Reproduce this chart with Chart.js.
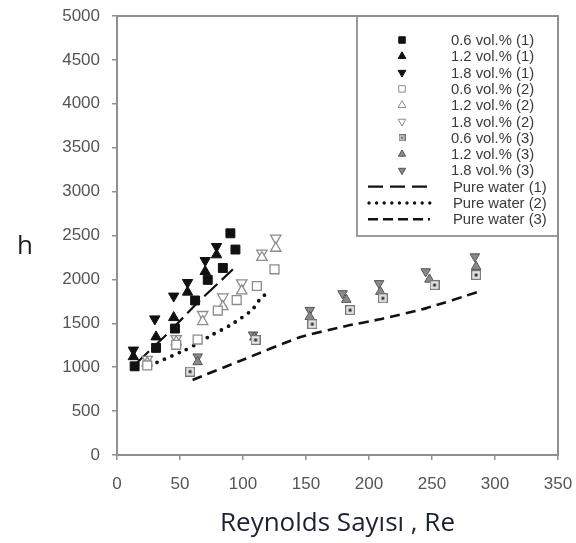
<!DOCTYPE html>
<html lang="tr">
<head>
    <meta charset="UTF-8">
    <title>h - Re</title>
    <script src="https://cdn.jsdelivr.net/npm/chart.js"></script>
    <style>
        body { margin: 0; background: #fff; }
        canvas { display: block; }
    </style>
</head>
<body>
    <canvas id="myChart" width="576" height="543"></canvas>

    <script>
        // eksen değerleri
        const xTicks = [0, 50, 100, 150, 200, 250, 300, 350];
        const yTicks = [0, 500, 1000, 1500, 2000, 2500, 3000, 3500, 4000, 4500, 5000];

        // (1) serisi - dolu semboller
        const re06_1 = [14, 31, 46, 62, 72, 84, 94, 90];
        const h06_1  = [1010, 1220, 1440, 1760, 1995, 2130, 2340, 2525];
        const re12_1 = [13, 31, 45, 56, 70, 79];
        const h12_1  = [1120, 1345, 1565, 1855, 2090, 2280];
        const re18_1 = [13, 30, 45, 56, 70, 79];
        const h18_1  = [1195, 1550, 1810, 1965, 2215, 2375];

        // (2) serisi - boş semboller
        const re06_2 = [24, 47, 64, 80, 95, 111, 125];
        const h06_2  = [1020, 1255, 1315, 1645, 1765, 1925, 2115];
        const re12_2 = [24, 47, 68, 84, 99, 115, 126];
        const h12_2  = [1050, 1290, 1520, 1690, 1870, 2250, 2355];
        const re18_2 = [24, 47, 68, 84, 99, 115, 126];
        const h18_2  = [1090, 1325, 1600, 1800, 1960, 2300, 2470];

        // (3) serisi - gri semboller
        const re06_3 = [58, 110, 155, 185, 211, 252, 285];
        const h06_3  = [950, 1310, 1490, 1650, 1785, 1935, 2050];
        const re12_3 = [64, 109, 153, 182, 209, 248, 285];
        const h12_3  = [1060, 1340, 1575, 1770, 1860, 2000, 2145];
        const re18_3 = [64, 108, 153, 179, 208, 245, 284];
        const h18_3  = [1120, 1370, 1650, 1840, 1955, 2090, 2260];

        // saf su eğrileri
        const rePw1 = [15, 40, 65, 92];
        const hPw1  = [1040, 1380, 1750, 2115];
        const rePw2 = [26, 54, 62, 75, 90, 107, 113, 120];
        const hPw2  = [1020, 1195, 1255, 1365, 1480, 1650, 1765, 1860];
        const rePw3 = [60, 100, 145, 182, 210, 245, 287];
        const hPw3  = [855, 1085, 1340, 1470, 1550, 1670, 1860];

        const pts = (xs, ys) => xs.map((x, i) => ({ x: x, y: ys[i] }));

        // ortası noktalı kare (0.6 vol.% (3))
        function boxDot(size) {
            const c = document.createElement('canvas');
            c.width = size; c.height = size;
            const g = c.getContext('2d');
            g.fillStyle = '#e6e6e6';
            g.fillRect(0, 0, size, size);
            g.strokeStyle = '#777';
            g.lineWidth = 1.2;
            g.strokeRect(0.6, 0.6, size - 1.2, size - 1.2);
            g.fillStyle = '#333';
            const d = Math.max(2, Math.round(size / 3));
            g.fillRect((size - d) / 2, (size - d) / 2, d, d);
            return c;
        }
        const boxDotBig = boxDot(10);
        const boxDotSmall = boxDot(7);

        const ctx = document.getElementById('myChart').getContext('2d');

        const datasets = [
            { label: '0.6 vol.% (1)', data: pts(re06_1, h06_1), pointStyle: 'rect', pointRadius: 6.3,
              backgroundColor: '#111', borderColor: '#111', borderWidth: 1, legendRadius: 4.6 },
            { label: '1.2 vol.% (1)', data: pts(re12_1, h12_1), pointStyle: 'triangle', pointRadius: 6,
              backgroundColor: '#111', borderColor: '#111', borderWidth: 1, legendRadius: 4.5 },
            { label: '1.8 vol.% (1)', data: pts(re18_1, h18_1), pointStyle: 'triangle', rotation: 180, pointRadius: 6,
              backgroundColor: '#111', borderColor: '#111', borderWidth: 1, legendRadius: 4.5 },
            { label: '0.6 vol.% (2)', data: pts(re06_2, h06_2), pointStyle: 'rect', pointRadius: 6.3,
              backgroundColor: '#fff', borderColor: '#8c8c8c', borderWidth: 1.3, legendRadius: 4.6 },
            { label: '1.2 vol.% (2)', data: pts(re12_2, h12_2), pointStyle: 'triangle', pointRadius: 6,
              backgroundColor: '#fff', borderColor: '#8c8c8c', borderWidth: 1.3, legendRadius: 4.5 },
            { label: '1.8 vol.% (2)', data: pts(re18_2, h18_2), pointStyle: 'triangle', rotation: 180, pointRadius: 6,
              backgroundColor: '#fff', borderColor: '#8c8c8c', borderWidth: 1.3, legendRadius: 4.5 },
            { label: '0.6 vol.% (3)', data: pts(re06_3, h06_3), pointStyle: boxDotBig, pointRadius: 5,
              backgroundColor: '#ccc', borderColor: '#777', borderWidth: 1, legendImage: boxDotSmall },
            { label: '1.2 vol.% (3)', data: pts(re12_3, h12_3), pointStyle: 'triangle', pointRadius: 5.5,
              backgroundColor: '#8a8a8a', borderColor: '#555', borderWidth: 1, legendRadius: 4.2 },
            { label: '1.8 vol.% (3)', data: pts(re18_3, h18_3), pointStyle: 'triangle', rotation: 180, pointRadius: 5.5,
              backgroundColor: '#8a8a8a', borderColor: '#555', borderWidth: 1, legendRadius: 4.2 },
            { label: 'Pure water (1)', data: pts(rePw1, hPw1), showLine: true, pointRadius: 0,
              borderColor: '#111', borderWidth: 2.2, borderDash: [18, 6], tension: 0 },
            { label: 'Pure water (2)', data: pts(rePw2, hPw2), showLine: true, pointRadius: 0,
              borderColor: '#111', borderWidth: 3.8, borderDash: [0, 8], borderCapStyle: 'round', tension: 0.25 },
            { label: 'Pure water (3)', data: pts(rePw3, hPw3), showLine: true, pointRadius: 0,
              borderColor: '#111', borderWidth: 2.6, borderDash: [10, 6], tension: 0.2 }
        ];

        // çerçeve, "h" etiketi ve lejant
        const decorations = {
            id: 'decorations',
            afterDraw(chart) {
                const c = chart.ctx;
                const a = chart.chartArea;
                c.save();

                // lejant kutusu
                const lx = 357, ly = a.top, lw = a.right - 357, lh = 236 - a.top;
                c.fillStyle = '#fff';
                c.fillRect(lx, ly, lw, lh);
                c.strokeStyle = '#9a9a9a';
                c.lineWidth = 2;
                c.strokeRect(lx, ly, lw, lh);

                c.font = '14.8px "Liberation Sans", Arial, sans-serif';
                c.textBaseline = 'middle';
                c.textAlign = 'left';
                chart.data.datasets.forEach((ds, i) => {
                    const y = 40 + i * 16.3;
                    if (ds.showLine) {
                        c.save();
                        c.strokeStyle = ds.borderColor;
                        c.lineWidth = i === 10 ? 3.4 : ds.borderWidth;
                        c.lineCap = ds.borderCapStyle || 'butt';
                        c.setLineDash(i === 9 ? [15, 7] : i === 10 ? [0, 7.6] : [10, 5]);
                        c.beginPath();
                        c.moveTo(i === 10 ? 369 : 368, y);
                        c.lineTo(430, y);
                        c.stroke();
                        c.restore();
                    } else {
                        c.save();
                        c.fillStyle = ds.backgroundColor;
                        c.strokeStyle = ds.borderColor;
                        c.lineWidth = 1;
                        Chart.helpers.drawPoint(c, {
                            pointStyle: ds.legendImage || ds.pointStyle,
                            rotation: ds.rotation || 0,
                            radius: ds.legendRadius || 4,
                            borderWidth: 1
                        }, 402, y);
                        c.restore();
                    }
                    c.fillStyle = '#3a3a3a';
                    c.fillText(ds.label, ds.showLine ? 453 : 451, y + 1);
                });

                // grafik çerçevesi
                c.strokeStyle = '#8f8f8f';
                c.lineWidth = 2;
                c.strokeRect(a.left, a.top, a.right - a.left, a.bottom - a.top);

                // dikey eksen etiketi
                c.fillStyle = '#1c1c24';
                c.font = '26px "Open Sans", sans-serif';
                c.textAlign = 'center';
                c.textBaseline = 'middle';
                c.fillText('h', 25, 247);
                c.restore();
            }
        };

        const myChart = new Chart(ctx, {
            type: 'scatter',
            data: { datasets: datasets },
            plugins: [decorations],
            options: {
                responsive: false,
                animation: false,
                layout: { padding: { left: 0, right: 18, top: 16, bottom: 0 } },
                plugins: {
                    legend: { display: false },
                    tooltip: { enabled: false }
                },
                scales: {
                    x: {
                        type: 'linear',
                        min: xTicks[0],
                        max: xTicks[xTicks.length - 1],
                        afterBuildTicks: (s) => { s.ticks = xTicks.map(v => ({ value: v })); },
                        afterFit: (s) => { s.height = 88; s.paddingLeft = 0; s.paddingRight = 0; },
                        border: { display: false },
                        grid: { drawOnChartArea: false, drawTicks: true, tickLength: 5, color: '#8f8f8f', lineWidth: 1.5 },
                        ticks: {
                            padding: 14,
                            color: '#555',
                            callback: (v) => String(v),
                            font: { family: '"Liberation Sans", Arial, sans-serif', size: 17 }
                        },
                        title: {
                            display: true,
                            text: 'Reynolds Sayısı , Re',
                            color: '#1c2233',
                            font: { family: '"Open Sans", sans-serif', size: 26 },
                            padding: { top: 0, bottom: 4 }
                        }
                    },
                    y: {
                        type: 'linear',
                        min: yTicks[0],
                        max: yTicks[yTicks.length - 1],
                        afterBuildTicks: (s) => { s.ticks = yTicks.map(v => ({ value: v })); },
                        afterFit: (s) => { s.width = 117; s.paddingTop = 0; s.paddingBottom = 0; },
                        border: { display: false },
                        grid: { drawOnChartArea: false, drawTicks: true, tickLength: 5, color: '#8f8f8f', lineWidth: 1.5 },
                        ticks: {
                            padding: 12,
                            color: '#555',
                            callback: (v) => String(v),
                            font: { family: '"Liberation Sans", Arial, sans-serif', size: 17 }
                        }
                    }
                }
            }
        });
    </script>
</body>
</html>
